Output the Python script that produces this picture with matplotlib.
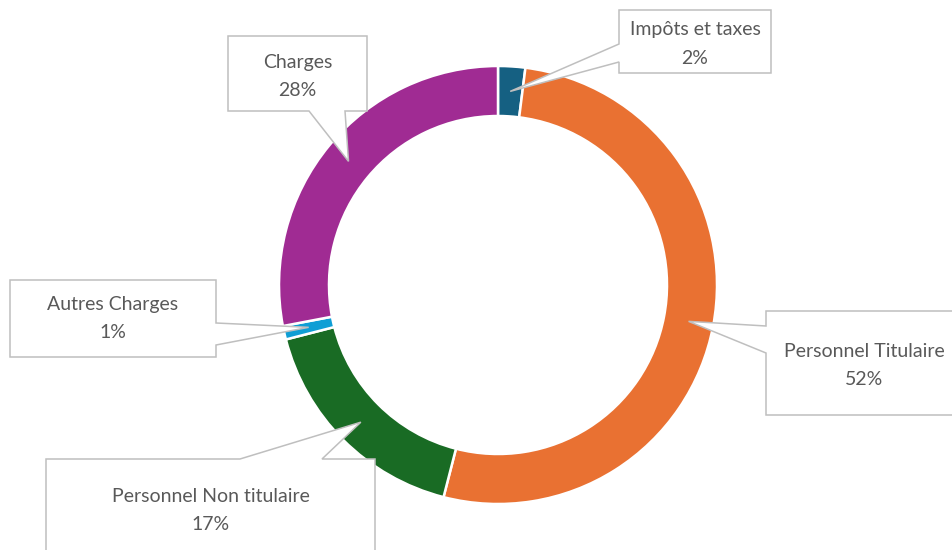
import matplotlib
matplotlib.use("Agg")
import matplotlib.pyplot as plt
from matplotlib.patches import Polygon
import numpy as np

# Répartition des dépenses (%)
categories = ["Impôts et taxes", "Personnel Titulaire", "Personnel Non titulaire",
              "Autres Charges", "Charges"]
values = [2, 52, 17, 1, 28]
colors = ["#156082", "#E97132", "#196B24", "#0F9ED5", "#A02B93"]

W, H = 952, 550
fig = plt.figure(figsize=(W / 100, H / 100), dpi=100)
ax = fig.add_axes([0, 0, 1, 1])
ax.set_xlim(0, W)
ax.set_ylim(0, H)
ax.set_aspect("equal")
ax.axis("off")

def py(y):
    # pixel row (from top) -> data y
    return H - y

cx, cy = 498, py(285)
r_out = 219
ring = 50

wedges, _ = ax.pie(values, colors=colors, startangle=90, counterclock=False,
                   center=(cx, cy), radius=r_out,
                   wedgeprops=dict(width=ring, edgecolor="white", linewidth=1.8))
ax.set_xlim(0, W)
ax.set_ylim(0, H)

# Callout boxes: (left, top, right, bottom) in pixels, side of the pointer, base span,
# text block centre (pixels from top)
callouts = [
    ((619, 10, 771, 73), "left", (44, 62), 41.5),
    ((766, 311, 962, 415), "left", (326, 353), 363),
    ((46, 459, 375, 560), "top", (240, 322), 508),
    ((10, 280, 216, 357), "right", (323, 345), 316),
    ((228, 36, 367, 111), "bottom", (309, 345), 74),
]

text_color = "#595959"
edge_color = "#BFBFBF"
r_mid = r_out - ring / 2
font = dict(fontsize=14, color=text_color, family="Lato", zorder=6,
            ha="center", va="baseline")

for w, name, v, (rect, side, base, ymid) in zip(wedges, categories, values, callouts):
    ang = np.deg2rad((w.theta1 + w.theta2) / 2)
    tip = (cx + r_mid * np.cos(ang), cy + r_mid * np.sin(ang))
    x0, t, x1, b = rect
    yt, yb = py(t), py(b)
    a0, a1 = base
    if side == "top":
        pts = [(x0, yt), (a0, yt), tip, (a1, yt), (x1, yt), (x1, yb), (x0, yb)]
    elif side == "bottom":
        pts = [(x0, yt), (x1, yt), (x1, yb), (a1, yb), tip, (a0, yb), (x0, yb)]
    elif side == "right":
        pts = [(x0, yt), (x1, yt), (x1, py(a0)), tip, (x1, py(a1)), (x1, yb), (x0, yb)]
    else:  # pointer on the left edge
        pts = [(x0, yt), (x1, yt), (x1, yb), (x0, yb), (x0, py(a1)), tip, (x0, py(a0))]
    ax.add_patch(Polygon(pts, closed=True, facecolor="white", edgecolor=edge_color,
                         linewidth=1.1, zorder=5, joinstyle="miter"))
    xc = (x0 + x1) / 2
    ax.text(xc, py(ymid - 6), name, **font)
    ax.text(xc, py(ymid + 22), f"{v}%", **font)

fig.savefig("out.png", dpi=100)
